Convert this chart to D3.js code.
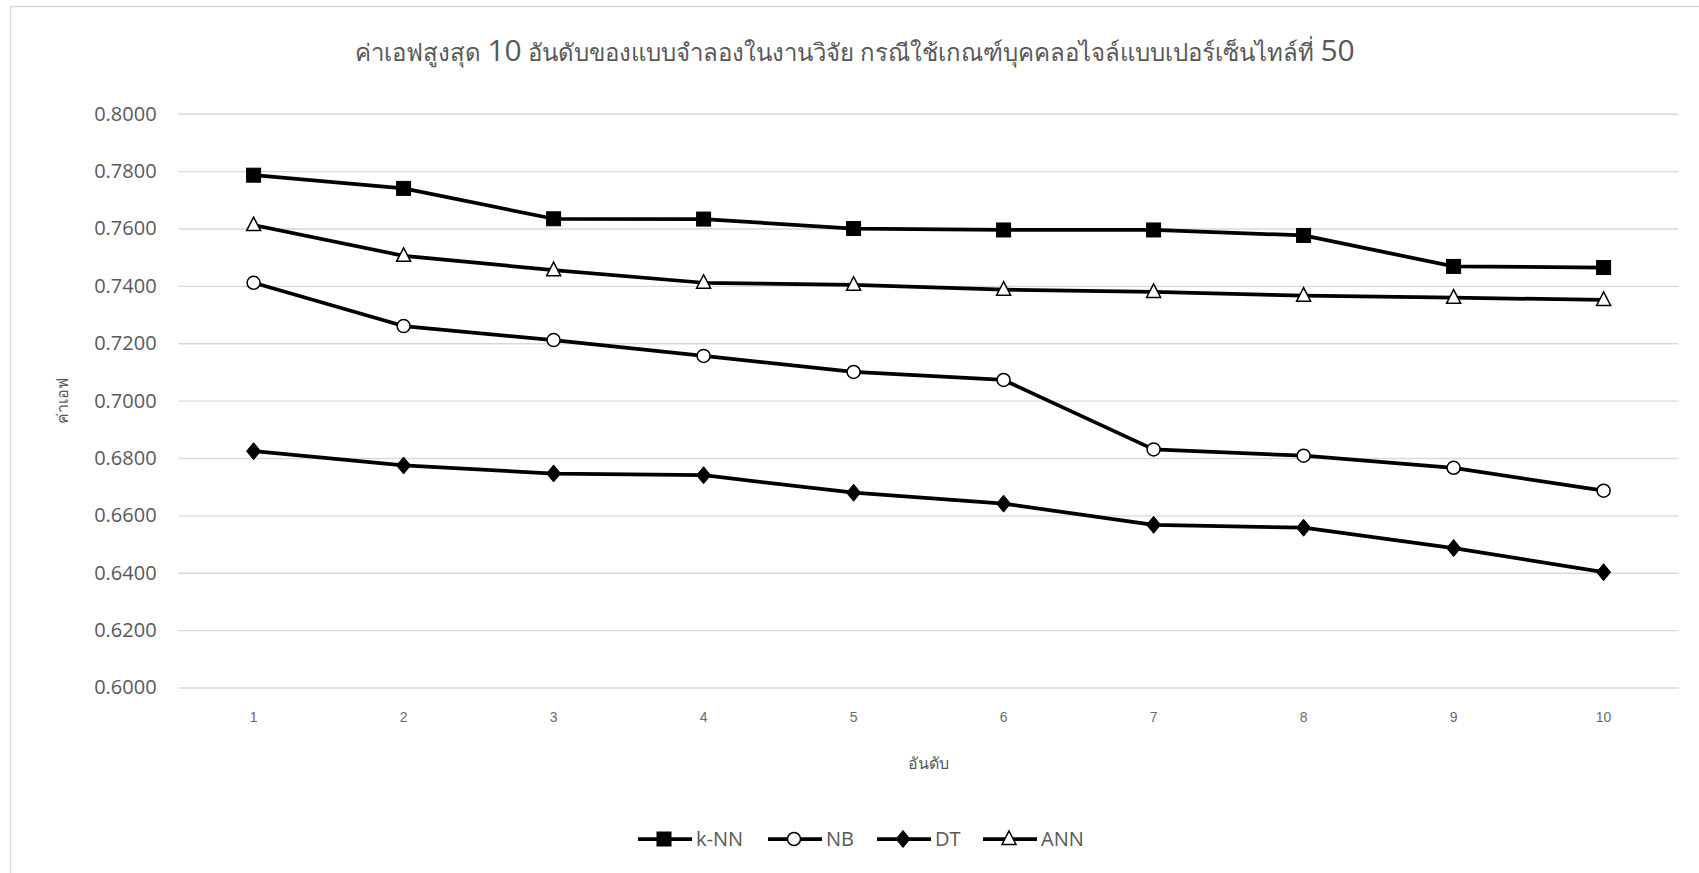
<!DOCTYPE html>
<html>
<head>
<meta charset="utf-8">
<script src="https://cdn.jsdelivr.net/npm/d3@7"></script>
<style>
  html, body { margin: 0; padding: 0; background: #fff; }
  svg { display: block; }
</style>
</head>
<body>
<svg id="chart" width="1699" height="873"></svg>
<script>
const categories = ["1","2","3","4","5","6","7","8","9","10"];
const knn = [0.7786, 0.7740, 0.7634, 0.7633, 0.7600, 0.7595, 0.7595, 0.7576, 0.7468, 0.7464];
const nb  = [0.7411, 0.7260, 0.7211, 0.7156, 0.7100, 0.7072, 0.6830, 0.6808, 0.6766, 0.6686];
const dt  = [0.6824, 0.6774, 0.6746, 0.6740, 0.6679, 0.6641, 0.6567, 0.6557, 0.6486, 0.6402];
const ann = [0.7612, 0.7505, 0.7455, 0.7411, 0.7404, 0.7387, 0.7379, 0.7366, 0.7359, 0.7351];
const yTicks = [0.60, 0.62, 0.64, 0.66, 0.68, 0.70, 0.72, 0.74, 0.76, 0.78, 0.80];
const seriesNames = ["k-NN", "NB", "DT", "ANN"];
const titleParts = ["ค่าเอฟสูงสุด ", "10", " อันดับของแบบจำลองในงานวิจัย กรณีใช้เกณฑ์บุคคลอไจล์แบบเปอร์เซ็นไทล์ที่ ", "50"];
const yTitle = "ค่าเอฟ";
const xTitle = "อันดับ";

const series = [
  { name: seriesNames[0], values: knn, marker: "square" },
  { name: seriesNames[1], values: nb, marker: "circle" },
  { name: seriesNames[2], values: dt, marker: "diamond" },
  { name: seriesNames[3], values: ann, marker: "triangle" }
];

const svg = d3.select("#chart");
const W = 1699, H = 873;
const plot = { left: 178.6, right: 1678.6, top: 113.8, bottom: 687.5 };
const textColor = "#595959";
const fontUI = "'Open Sans', 'Noto Sans', 'DejaVu Sans', sans-serif";

// chart border (top & left visible)
svg.append("path")
  .attr("d", `M10.5,${H} L10.5,6.5 L${W},6.5`)
  .attr("fill", "none").attr("stroke", "#d9d9d9").attr("stroke-width", 1.5);

const x = d3.scaleBand().domain(categories).range([plot.left, plot.right]);
const y = d3.scaleLinear().domain([0.6, 0.8]).range([plot.bottom, plot.top]);

// gridlines
svg.append("g")
  .attr("transform", `translate(${plot.left},0)`)
  .call(d3.axisLeft(y).tickValues(yTicks).tickSize(-(plot.right - plot.left)).tickFormat(""))
  .call(g => g.select(".domain").remove())
  .call(g => g.selectAll("line").attr("stroke", "#d9d9d9").attr("stroke-width", 1.4));

// y labels
svg.append("g")
  .attr("transform", `translate(${plot.left},0)`)
  .call(d3.axisLeft(y).tickValues(yTicks).tickSize(0).tickPadding(22).tickFormat(d3.format(".4f")))
  .call(g => g.select(".domain").remove())
  .call(g => g.selectAll("text").attr("fill", textColor).attr("font-size", 20).attr("font-family", fontUI));

// x labels
svg.append("g")
  .attr("transform", `translate(0,${plot.bottom})`)
  .call(d3.axisBottom(x).tickSize(0).tickPadding(25))
  .call(g => g.select(".domain").remove())
  .call(g => g.selectAll("text").attr("fill", "#6a6a6a").attr("font-size", 14).attr("font-family", "'Liberation Sans', Arial, sans-serif"));

// title
const title = svg.append("text")
  .attr("x", 855).attr("y", 61)
  .attr("text-anchor", "middle")
  .attr("fill", textColor)
  .attr("font-family", fontUI);
titleParts.forEach((t, i) => {
  title.append("tspan")
    .attr("font-size", i % 2 === 1 ? 30 : 24)
    .text(t);
});

// axis titles
svg.append("text")
  .attr("transform", `translate(68,${(plot.top + plot.bottom) / 2}) rotate(-90)`)
  .attr("text-anchor", "middle")
  .attr("fill", textColor).attr("font-size", 16).attr("font-family", fontUI)
  .text(yTitle);

svg.append("text")
  .attr("x", (plot.left + plot.right) / 2).attr("y", 769)
  .attr("text-anchor", "middle")
  .attr("fill", textColor).attr("font-size", 16).attr("font-family", fontUI)
  .text(xTitle);

function drawMarker(g, type, cx, cy) {
  if (type === "square") {
    g.append("rect").attr("x", cx - 7).attr("y", cy - 7).attr("width", 14).attr("height", 14)
      .attr("fill", "#000").attr("stroke", "#000").attr("stroke-width", 1);
  } else if (type === "circle") {
    g.append("circle").attr("cx", cx).attr("cy", cy).attr("r", 6.5)
      .attr("fill", "#fff").attr("stroke", "#000").attr("stroke-width", 1.5);
  } else if (type === "diamond") {
    g.append("path").attr("d", `M${cx},${cy - 8.5} L${cx + 7},${cy} L${cx},${cy + 8.5} L${cx - 7},${cy} Z`)
      .attr("fill", "#000").attr("stroke", "#000").attr("stroke-width", 1);
  } else if (type === "triangle") {
    g.append("path").attr("d", `M${cx},${cy - 8} L${cx + 7},${cy + 5.5} L${cx - 7},${cy + 5.5} Z`)
      .attr("fill", "#fff").attr("stroke", "#000").attr("stroke-width", 1.5);
  }
}

const line = d3.line()
  .x((d, i) => x(categories[i]) + x.bandwidth() / 2)
  .y(d => y(d));

series.forEach(s => {
  svg.append("path")
    .datum(s.values)
    .attr("d", line)
    .attr("fill", "none")
    .attr("stroke", "#000")
    .attr("stroke-width", 3.75)
    .attr("stroke-linejoin", "round");
});
series.forEach(s => {
  const g = svg.append("g");
  s.values.forEach((v, i) => drawMarker(g, s.marker, x(categories[i]) + x.bandwidth() / 2, y(v)));
});

// legend
const legendY = 839;
const legendX = [638, 768, 877, 983];
series.forEach((s, i) => {
  const g = svg.append("g");
  const x0 = legendX[i];
  g.append("line").attr("x1", x0).attr("x2", x0 + 54).attr("y1", legendY).attr("y2", legendY)
    .attr("stroke", "#000").attr("stroke-width", 3.75);
  drawMarker(g, s.marker, x0 + 26, legendY);
  g.append("text").attr("x", x0 + 58).attr("y", legendY).attr("dy", "0.35em")
    .attr("fill", textColor).attr("font-size", 20).attr("font-family", fontUI)
    .text(s.name);
});
</script>
</body>
</html>
